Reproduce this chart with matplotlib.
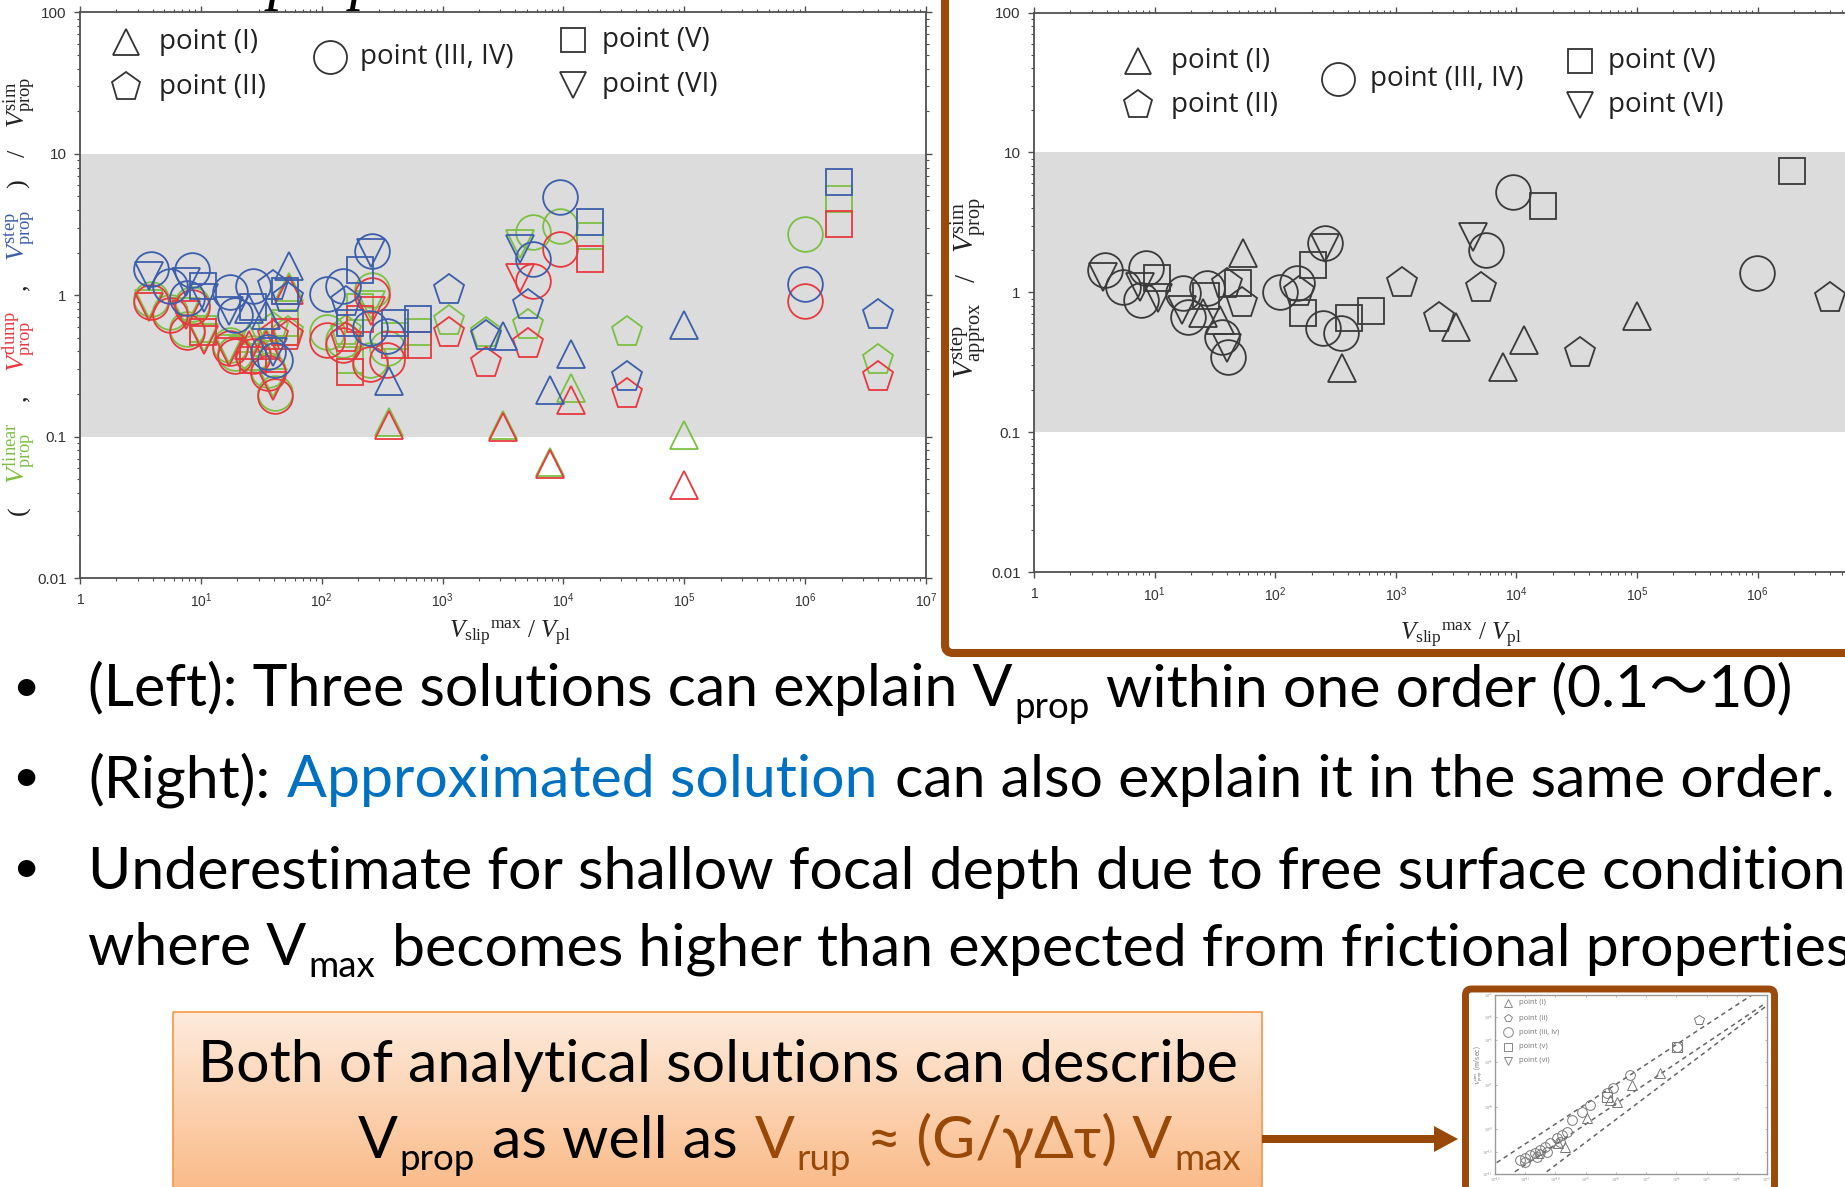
import numpy as np
import matplotlib
matplotlib.use("Agg")
import matplotlib.pyplot as plt
from matplotlib.lines import Line2D
from matplotlib.patches import Rectangle, FancyBboxPatch, FancyArrow
from matplotlib.ticker import FixedLocator, LogLocator, NullFormatter

W, H, DPI = 1845, 1187, 100
plt.rcParams.update({
    'mathtext.fontset': 'custom',
    'mathtext.rm': 'Liberation Serif',
    'mathtext.it': 'Liberation Serif:italic',
    'mathtext.bf': 'Liberation Serif:bold',
    'mathtext.sf': 'Liberation Sans',
    'font.family': ['Lato', 'Noto Sans CJK JP', 'DejaVu Sans'],
})

# ------------------------------------------------------------------ data
# one entry per simulated event (log10 units)
point_group = ['III', 'VI', 'III', 'III', 'III', 'VI', 'V', 'VI', 'III', 'III',
               'VI', 'III', 'V', 'III', 'III', 'VI', 'II', 'V', 'II', 'I',
               'I', 'III', 'III', 'V', 'V', 'III', 'VI', 'III', 'III', 'V',
               'V', 'I', 'II', 'II', 'I', 'II', 'VI', 'III', 'III', 'V',
               'I', 'I', 'II', 'I', 'III', 'V', 'II', 'I', 'II']
log_vslip_ratio = [0.59, 0.575, 0.741, 0.929, 0.887, 0.88, 1.017, 1.03, 1.238, 1.28,
                   1.23, 1.432, 1.43, 1.556, 1.611, 1.60, 1.60, 1.694, 1.722, 1.73,
                   1.54, 2.04, 2.178, 2.233, 2.316, 2.413, 2.41, 2.40, 2.543, 2.61,
                   2.797, 2.557, 3.05, 3.358, 3.50, 3.704, 3.638, 3.748, 3.972, 4.223,
                   3.889, 4.059, 4.526, 5.0, 5.995, 6.284, 6.6, 1.40, 2.2]
log_ratio_step_approx = [0.159, 0.11, 0.039, 0.171, -0.056, 0.04, 0.099, -0.04, -0.008, -0.175,
                         -0.13, 0.028, -0.03, -0.318, -0.461, -0.40, 0.06, 0.064, -0.08, 0.278,
                         -0.20, 0.003, 0.064, -0.151, 0.195, 0.35, 0.32, -0.258, -0.29, -0.187,
                         -0.132, -0.542, 0.068, -0.187, -0.247, 0.032, 0.397, 0.302, 0.719, 0.617,
                         -0.533, -0.342, -0.437, -0.17, 0.139, 0.869, -0.044, -0.15, 0.0]
log_ratio_step = [0.182, 0.138, 0.065, 0.18, -0.02, 0.09, 0.065, -0.02, 0.02, -0.14,
                  -0.11, 0.065, -0.08, -0.40, -0.46, -0.40, 0.065, 0.03, -0.02, 0.21,
                  -0.14, 0.006, 0.065, -0.20, 0.18, 0.314, 0.30, -0.23, -0.29, -0.20,
                  -0.17, -0.61, 0.036, -0.287, -0.287, -0.067, 0.33, 0.255, 0.695, 0.52,
                  -0.668, -0.419, -0.58, -0.213, 0.08, 0.798, -0.14, -0.10, -0.05]
log_ratio_linear = [-0.03, -0.06, -0.12, -0.06, -0.24, -0.12, -0.24, -0.30, -0.35, -0.41,
                    -0.38, -0.41, -0.44, -0.53, -0.69, -0.62, -0.23, -0.20, -0.26, 0.06,
                    -0.33, -0.26, -0.32, -0.46, -0.08, 0.04, -0.07, -0.46, -0.37, -0.29,
                    -0.26, -0.90, -0.18, -0.27, -0.92, -0.213, 0.36, 0.446, 0.49, 0.42,
                    -1.18, -0.653, -0.257, -0.99, 0.43, 0.68, -0.46, -0.30, -0.25]
log_ratio_dump = [-0.05, -0.08, -0.14, -0.08, -0.26, -0.14, -0.26, -0.32, -0.37, -0.43,
                  -0.40, -0.43, -0.46, -0.55, -0.71, -0.64, -0.29, -0.26, -0.29, 0.036,
                  -0.35, -0.32, -0.35, -0.54, -0.17, 0.0, -0.11, -0.49, -0.46, -0.35,
                  -0.35, -0.92, -0.27, -0.477, -0.93, -0.345, 0.124, 0.10, 0.33, 0.256,
                  -1.195, -0.74, -0.70, -1.342, -0.04, 0.505, -0.58, -0.35, -0.30]

xtick_exponents = [0, 1, 2, 3, 4, 5, 6, 7]
ytick_values = [0.01, 0.1, 1, 10, 100]
ytick_labels = ['0.01', '0.1', '1', '10', '100']
band_low, band_high = 0.1, 10
legend_labels = {'I': 'point (I)', 'II': 'point (II)', 'III': 'point (III, IV)',
                 'V': 'point (V)', 'VI': 'point (VI)'}

# small thumbnail plot (decades from the lower-left corner)
inset_circle_u = [0.83, 0.99, 1.16, 1.33, 1.49, 1.66, 1.82, 2.04, 2.21, 2.38, 0.99, 1.38,
                  1.71, 2.15, 2.54, 2.87, 3.15, 3.70, 3.92, 4.48, 6.02]
inset_circle_v = [0.63, 0.70, 0.85, 0.95, 1.07, 1.22, 1.37, 1.59, 1.74, 1.89, 0.55, 0.77,
                  1.0, 1.45, 2.41, 2.79, 3.08, 3.61, 3.83, 4.43, 5.66]
inset_tri_u = [2.10, 2.32, 3.81, 4.03, 4.53, 5.47, 3.04]
inset_tri_v = [1.37, 1.22, 3.31, 3.23, 3.98, 4.50, 2.49]
inset_sq_u = [6.02, 3.70]
inset_sq_v = [5.66, 3.46]
inset_pent_u = [6.74, 1.5]
inset_pent_v = [6.89, 0.9]
inset_line_u = [[0.055, 8.5], [0.66, 8.95], [1.71, 8.95]]
inset_line_v = [[0.507, 8.0], [0.10, 7.63], [0.10, 7.48]]

# ------------------------------------------------------------------ figure
fig = plt.figure(figsize=(W / DPI, H / DPI), dpi=DPI)
fig.patch.set_facecolor('white')
R = fig.canvas.get_renderer()
PX = DPI / 72.0


def frac(x, y):
    return x / W, 1 - y / H


def rect(l, t, r, b):
    return [l / W, 1 - b / H, (r - l) / W, (b - t) / H]


BLUE, GREEN, RED = '#3d5eab', '#7cc043', '#e8393f'
DARK = '#3a3a3a'
BROWN = '#984807'
FRAME = '#9b4a0b'
MARK = {'I': '^', 'II': 'p', 'III': 'o', 'V': 's', 'VI': 'v'}
MSIZE = {'I': 20, 'II': 23, 'III': 25, 'V': 18.5, 'VI': 20}


def style_log_axes(ax):
    ax.set_xscale('log')
    ax.set_yscale('log')
    ax.set_xlim(1, 1e7)
    ax.set_ylim(0.01, 100)
    ax.axhspan(band_low, band_high, facecolor='#dcdcdc', edgecolor='none', zorder=0)
    for sp in ax.spines.values():
        sp.set_color('#505050')
        sp.set_linewidth(1.3)
    ax.xaxis.set_major_locator(FixedLocator([10.0 ** k for k in xtick_exponents]))
    ax.set_xticklabels([r'$\mathsf{1}$' if k == 0 else r'$\mathsf{10^{%d}}$' % k
                        for k in xtick_exponents], fontsize=10, color='#333333')
    ax.yaxis.set_major_locator(FixedLocator(ytick_values))
    ax.set_yticklabels(ytick_labels, fontsize=11, fontfamily='Liberation Sans', color='#333333')
    ax.xaxis.set_minor_locator(LogLocator(base=10, subs=np.arange(2, 10), numticks=100))
    ax.yaxis.set_minor_locator(LogLocator(base=10, subs=np.arange(2, 10), numticks=100))
    ax.xaxis.set_minor_formatter(NullFormatter())
    ax.yaxis.set_minor_formatter(NullFormatter())
    ax.tick_params(which='both', direction='out', top=True, right=True, color='#505050')
    ax.tick_params(which='major', length=4, width=1.0)
    ax.tick_params(which='minor', length=2.2, width=0.8)
    ax.tick_params(axis='y', which='major', pad=5.5)
    ax.tick_params(axis='x', which='major', pad=6)


groups = np.array(point_group)
xv = 10.0 ** np.array(log_vslip_ratio)

# left chart
axL = fig.add_axes(rect(80, 12.4, 926, 578))
style_log_axes(axL)
for vals, col in ((log_ratio_linear, GREEN), (log_ratio_dump, RED), (log_ratio_step, BLUE)):
    yv = 10.0 ** np.array(vals)
    for g, m in MARK.items():
        sel = groups == g
        axL.plot(xv[sel], yv[sel], ls='none', marker=m, ms=MSIZE[g], mfc='none',
                 mec=col, mew=1.3, zorder=3)

# right chart (runs past the slide edge)
axR = fig.add_axes(rect(1034, 12.6, 1034 + 7 * 120.6, 572))
style_log_axes(axR)
ya = 10.0 ** np.array(log_ratio_step_approx)
for g, m in MARK.items():
    sel = groups == g
    axR.plot(xv[sel], ya[sel], ls='none', marker=m, ms=MSIZE[g], mfc='none',
             mec=DARK, mew=1.3, zorder=3)


# legends
def legend_key(x, y, g, ms, color, mew=1.3):
    fig.add_artist(Line2D([x / W], [1 - y / H], transform=fig.transFigure, ls='none',
                          marker=MARK[g], ms=ms, mfc='none', mec=color, mew=mew))


for (kx, ky, tx, g) in [(126, 42, 159, 'I'), (126, 87, 159, 'II'), (330, 57, 360, 'III'),
                        (573, 40, 602, 'V'), (573, 85, 602, 'VI')]:
    legend_key(kx, ky, g, MSIZE[g] * 0.95, '#333333')
    fig.text(*frac(tx, ky), legend_labels[g], fontsize=20, family='Open Sans',
             color='#222222', va='center', ha='left')
for (kx, ky, tx, g) in [(1138, 61, 1171, 'I'), (1138, 105, 1171, 'II'), (1338, 79, 1370, 'III'),
                        (1580, 61, 1608, 'V'), (1580, 105, 1608, 'VI')]:
    legend_key(kx, ky, g, MSIZE[g] * 0.95, '#333333')
    fig.text(*frac(tx, ky), legend_labels[g], fontsize=20, family='Open Sans',
             color='#222222', va='center', ha='left')

# x labels
xlab = r'$V_{\mathrm{slip}}{}^{\mathrm{max}}\ /\ V_{\mathrm{pl}}$'
fig.text(*frac(510, 638), xlab, fontsize=18, ha='center', va='baseline', color='#222222')
fig.text(*frac(1461, 640), xlab, fontsize=18, ha='center', va='baseline', color='#222222')


def measure(s, size, family, **kw):
    t = fig.text(0, 0, s, fontsize=size, family=family, **kw)
    w = t.get_window_extent(R).width
    t.remove()
    return w


SER = 'Liberation Serif'


def draw_vertical(xb, yc, pieces, size, target):
    widths = [measure(s, size, SER) for s, c in pieces]
    gap = max(4.0, (target - sum(widths)) / (len(pieces) - 1))
    total = sum(widths) + gap * (len(pieces) - 1)
    y = yc + total / 2
    for (s, c), w in zip(pieces, widths):
        fig.text(*frac(xb, y), s, rotation=90, rotation_mode='anchor', ha='left',
                 va='baseline', fontsize=size, family=SER, color=c)
        y -= w + gap


draw_vertical(25, 296, [('(', '#222222'),
                        (r'$V_{\mathrm{prop}}^{\mathrm{linear}}$', GREEN), (',', '#222222'),
                        (r'$V_{\mathrm{prop}}^{\mathrm{dump}}$', RED), (',', '#222222'),
                        (r'$V_{\mathrm{prop}}^{\mathrm{step}}$', BLUE), (')', '#222222'),
                        ('/', '#222222'), (r'$V_{\mathrm{prop}}^{\mathrm{sim}}$', '#222222')],
              19, 438)
draw_vertical(975, 288, [(r'$V_{\mathrm{approx}}^{\mathrm{step}}$', '#222222'), ('/', '#222222'),
                         (r'$V_{\mathrm{prop}}^{\mathrm{sim}}$', '#222222')], 21, 183)

# clipped heading remnant at the very top
fig.text(*frac(268, -2), 'prop', fontsize=44, family=SER, style='italic', va='baseline',
         color='black', zorder=10)

# ------------------------------------------------------------------ slide text
BODY = ['Lato', 'Noto Sans CJK JP', 'DejaVu Sans']
BS = 42.5


def draw_runs(x, y, runs, size, family, align='left'):
    cache = {}

    def space(sz):
        if sz not in cache:
            cache[sz] = measure('n n', sz, family) - measure('nn', sz, family)
        return cache[sz]
    items = []
    total = 0.0
    for s, color, scale, dy in runs:
        sz = size * scale
        core = s.strip(' ')
        lead = len(s) - len(s.lstrip(' '))
        trail = len(s) - len(s.rstrip(' '))
        total += lead * space(sz)
        w = measure(core, sz, family) if core else 0.0
        items.append((core, color, sz, dy, total))
        total += w + trail * space(sz) + 0.03 * size * PX
    x0 = x - total if align == 'right' else x
    for core, color, sz, dy, off in items:
        if core:
            fig.text(*frac(x0 + off, y - dy * size * PX), core, fontsize=sz, family=family,
                     color=color, va='baseline', ha='left')


for yb in (688, 778, 869):
    fig.text(*frac(26, yb), '\u2022', fontsize=34, family=BODY, ha='center', va='center',
             color='black')

SUB = (0.62, -0.2)
draw_runs(88, 706, [('(Left): Three solutions can explain V', 'black', 1, 0),
                    ('prop', 'black', *SUB),
                    (' within one order (0.1\u301c10)', 'black', 1, 0)], BS, BODY)
draw_runs(88, 797, [('(Right): ', 'black', 1, 0),
                    ('Approximated solution', '#0070C0', 1, 0),
                    (' can also explain it in the same order.', 'black', 1, 0)], BS, BODY)
draw_runs(88, 889, [('Underestimate for shallow focal depth due to free surface condition',
                     'black', 1, 0)], BS, BODY)
draw_runs(88, 965, [('where V', 'black', 1, 0), ('max', 'black', *SUB),
                    (' becomes higher than expected from frictional properties', 'black', 1, 0)],
          BS, BODY)

# ------------------------------------------------------------------ shapes
ov = fig.add_axes([0, 0, 1, 1], zorder=-1)
grad_top = np.array([253, 235, 220]) / 255.0
grad_bot = np.array([250, 184, 132]) / 255.0
tt = np.linspace(0, 1, 256)[:, None, None]
grad = grad_top[None, None, :] * (1 - tt) + grad_bot[None, None, :] * tt
ov.imshow(grad, extent=(173, 1262, 1200, 1012), aspect='auto', origin='upper',
          interpolation='bilinear', zorder=1)
ov.add_patch(Rectangle((173, 1012), 1089, 200, fill=False, ec='#F79646', lw=1.2, zorder=2))
ov.add_patch(FancyArrow(1262, 1139, 196, 0, width=8, head_width=26, head_length=24,
                        length_includes_head=True, fc=BROWN, ec='none', zorder=2))
ov.add_patch(FancyBboxPatch((945, -10), 1000, 663, boxstyle='round,pad=0,rounding_size=8',
                            fill=False, ec=FRAME, lw=5.8, zorder=2))
ov.add_patch(FancyBboxPatch((1465.5, 989), 309, 260, boxstyle='round,pad=0,rounding_size=6',
                            fc='white', ec=FRAME, lw=5.0, zorder=2))
ov.set_xlim(0, W)
ov.set_ylim(H, 0)
ov.axis('off')

draw_runs(1240, 1082, [('Both of analytical solutions can describe', 'black', 1, 0)],
          BS, BODY, align='right')
draw_runs(1243, 1158, [('V', 'black', 1, 0), ('prop', 'black', *SUB),
                       (' as well as ', 'black', 1, 0), ('V', BROWN, 1, 0), ('rup', BROWN, *SUB),
                       (' \u2248 (G/\u03b3\u0394\u03c4) V', BROWN, 1, 0), ('max', BROWN, *SUB)],
          BS, BODY, align='right')

# ------------------------------------------------------------------ thumbnail
axI = fig.add_axes(rect(1495, 995, 1767, 1174))
axI.set_xscale('log')
axI.set_yscale('log')
axI.set_xlim(1, 1e9)
axI.set_ylim(1, 1e8)
for u, v in zip(inset_line_u, inset_line_v):
    axI.plot(10.0 ** np.array(u), 10.0 ** np.array(v), ls=(0, (3, 2.5)), color='#666666', lw=1.1)
for uu, vv, m in ((inset_circle_u, inset_circle_v, 'o'), (inset_tri_u, inset_tri_v, '^'),
                  (inset_sq_u, inset_sq_v, 's'), (inset_pent_u, inset_pent_v, 'p')):
    axI.plot(10.0 ** np.array(uu), 10.0 ** np.array(vv), ls='none', marker=m, ms=7,
             mfc='none', mec='#777777', mew=0.7)
for sp in axI.spines.values():
    sp.set_color('#999999')
    sp.set_linewidth(1.0)
axI.xaxis.set_major_locator(FixedLocator([10.0 ** k for k in range(10)]))
axI.yaxis.set_major_locator(FixedLocator([10.0 ** k for k in range(9)]))
axI.set_xticklabels([r'$10^{-%d}$' % (12 - k) for k in range(10)], fontsize=3, color='#888888')
axI.set_yticklabels([r'$10^{-%d}$' % (11 - k) for k in range(9)], fontsize=3, color='#888888')
axI.xaxis.set_minor_formatter(NullFormatter())
axI.yaxis.set_minor_formatter(NullFormatter())
axI.tick_params(which='both', direction='in', length=1.5, width=0.5, color='#999999', pad=1.5,
                top=True, right=True)
axI.tick_params(which='minor', length=0)
for ky, g in zip([1003, 1018, 1032, 1047, 1061], ['I', 'II', 'III', 'V', 'VI']):
    legend_key(1508, ky, g, 6 if g != 'III' else 7, '#888888', mew=0.7)
    fig.text(*frac(1519, ky), legend_labels[g].replace('III, IV', 'iii, iv').replace('(VI)', '(vi)')
             .replace('(V)', '(v)').replace('(II)', '(ii)').replace('(I)', '(i)'),
             fontsize=5.5, family='Open Sans', color='#777777', va='center', ha='left')
fig.text(*frac(1478, 1065), r'$V_{\mathrm{prop}}^{\mathrm{sim}}$ (m/sec)', rotation=90,
         fontsize=5, color='#777777', ha='center', va='center')

fig.savefig('out.png', dpi=DPI)
